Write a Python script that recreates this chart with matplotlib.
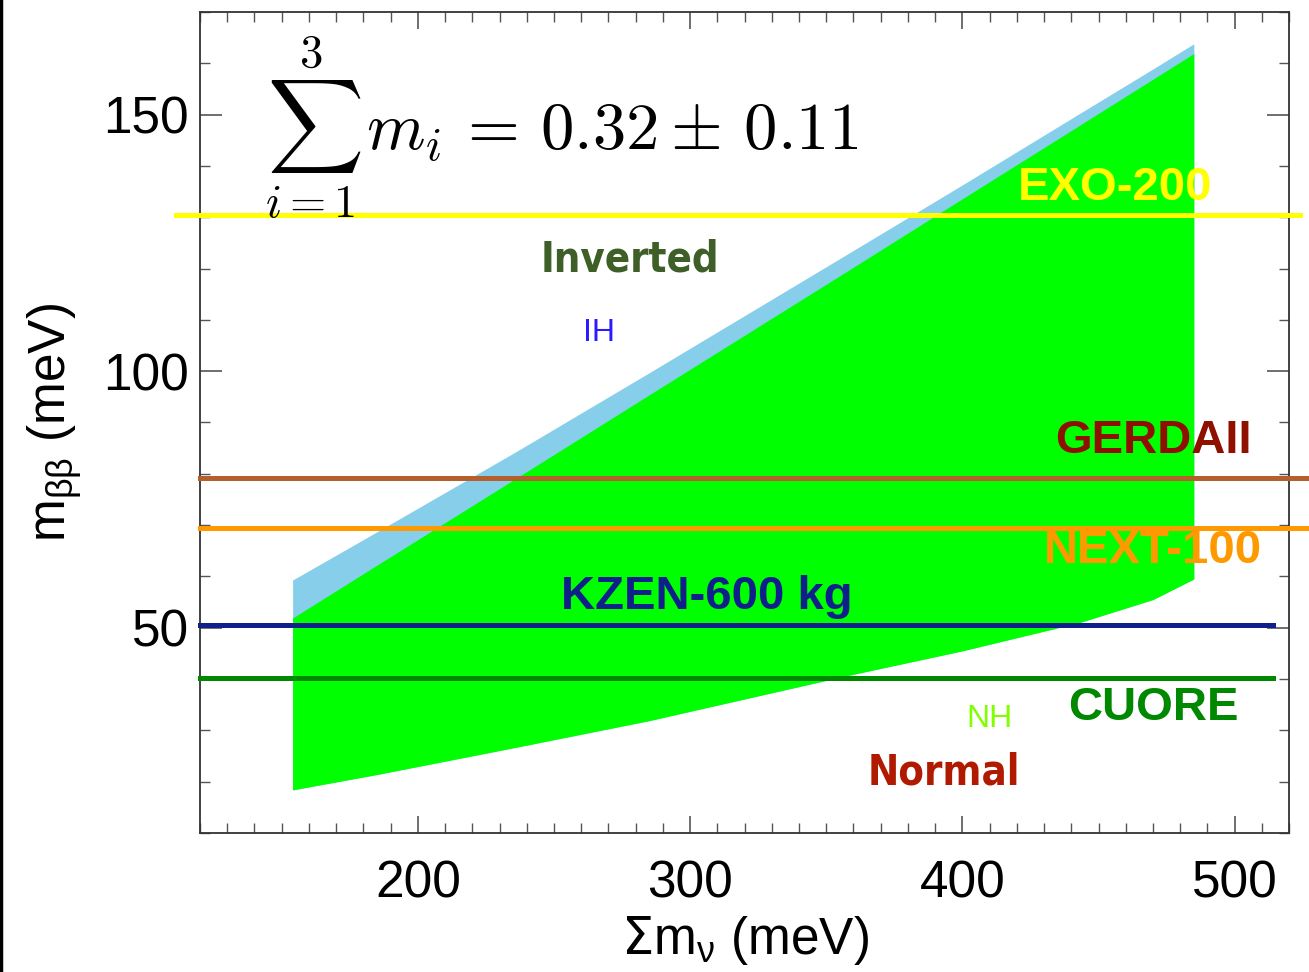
import numpy as np
import matplotlib
matplotlib.use("Agg")
import matplotlib.pyplot as plt
from matplotlib.ticker import MultipleLocator
from matplotlib.lines import Line2D

# sum of neutrino masses (meV) and m_bb band edges (meV)
sum_m = [154, 185, 236, 285, 358, 400, 443, 470, 485]
m_low = [18.4, 21.4, 26.7, 31.9, 40.7, 45.5, 51.0, 55.5, 59.5]
m_nh_top = [51.9, 62.2, 79.1, 95.4, 119.6, 133.6, 147.9, 156.9, 161.9]
m_ih_top = [59.3, 68.7, 84.3, 99.7, 122.9, 136.3, 150.2, 158.9, 163.8]

# experiment sensitivities (meV)
exp_names = ["EXO-200", "GERDAII", "NEXT-100", "KZEN-600 kg", "CUORE"]
exp_vals = [130.5, 79.2, 69.5, 50.6, 40.3]
exp_xmin = [111, 120, 120, 120, 120]
exp_xmax = [524, 528, 528, 514, 514]
line_cols = ["#ffff00", "#b5602c", "#ff9900", "#10208a", "#008800"]
text_cols = ["#ffff00", "#901000", "#ff9900", "#10208a", "#008800"]
text_x = [456, 470, 470, 306, 470]
text_y = [135.6, 86.4, 65.0, 56.0, 34.4]

sans = ["Liberation Sans", "DejaVu Sans"]

fig = plt.figure(figsize=(13.09, 9.72), dpi=100)
ax = fig.add_axes([0.1528, 0.143, 0.832, 0.8447])

ax.fill_between(sum_m, m_low, m_ih_top, color="#87ceeb", linewidth=0, zorder=1)
ax.fill_between(sum_m, m_low, m_nh_top, color="#00ff00", linewidth=0, zorder=2)

for i in range(len(exp_names)):
    ax.plot([exp_xmin[i], exp_xmax[i]], [exp_vals[i], exp_vals[i]],
            color=line_cols[i], lw=3.6, clip_on=False, zorder=3)
    ax.text(text_x[i], text_y[i], exp_names[i], color=text_cols[i],
            fontsize=34, fontweight="bold", family=sans,
            ha="center", va="center", zorder=4)

ax.text(278, 121.8, "Inverted", color="#3f5f28", fontsize=30,
        fontweight="bold", family="DejaVu Sans", fontstretch="condensed",
        ha="center", va="center")
ax.text(266.7, 107.4, "IH", color="#2a1aff", fontsize=23, family=sans,
        ha="center", va="center")
ax.text(409.8, 32.3, "NH", color="#80ff00", fontsize=23, family=sans,
        ha="center", va="center")
ax.text(393.3, 21.8, "Normal", color="#b01a00", fontsize=30,
        fontweight="bold", family="DejaVu Sans", fontstretch="condensed",
        ha="center", va="center")

ax.text(144, 147.5,
        r"$\sum_{i=1}^{3}\, m_i \,=\, 0.32 \pm\, 0.11$", fontsize=48,
        math_fontfamily="cm", ha="left", va="center")

ax.set_xlim(120, 520)
ax.set_ylim(10, 170)
ax.xaxis.set_major_locator(MultipleLocator(100))
ax.xaxis.set_minor_locator(MultipleLocator(10))
ax.yaxis.set_major_locator(MultipleLocator(50))
ax.yaxis.set_minor_locator(MultipleLocator(10))
ax.tick_params(which="both", direction="in", top=True, right=True,
               color="#555555")
ax.tick_params(axis="y", which="major", length=16, width=1.2, pad=8)
ax.tick_params(axis="x", which="major", length=12, width=1.2, pad=19)
ax.tick_params(which="minor", length=7, width=1.0)
ax.tick_params(axis="both", which="major", labelsize=37)
for lab in ax.get_xticklabels() + ax.get_yticklabels():
    lab.set_family(sans)
for s in ax.spines.values():
    s.set_linewidth(1.3)
    s.set_color("#333333")

ax.set_xlabel(r"$\Sigma$m$_\mathregular{ν}$ (meV)", fontsize=37, family=sans,
              labelpad=4)
ax.set_ylabel(r"m$_\mathregular{ββ}$ (meV)", fontsize=37, family=sans,
              labelpad=14)

fig.add_artist(Line2D([0.001, 0.001], [0, 1], color="black", lw=2.5,
                      transform=fig.transFigure))

fig.savefig("out.png", dpi=100)
